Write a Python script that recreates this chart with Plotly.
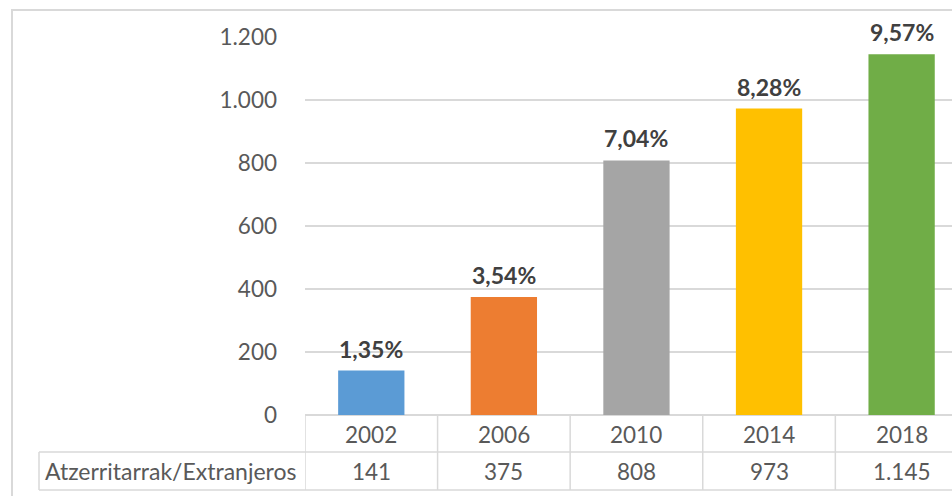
import plotly.graph_objects as go

# data
years = ["2002", "2006", "2010", "2014", "2018"]
extranjeros = [141, 375, 808, 973, 1145]
porcentajes = ["1,35%", "3,54%", "7,04%", "8,28%", "9,57%"]
row_label = "Atzerritarrak/Extranjeros"
y_ticks = [0, 200, 400, 600, 800, 1000, 1200]

colors = ["#5B9BD5", "#ED7D31", "#A5A5A5", "#FFC000", "#70AD47"]
grid_color = "#D9D9D9"
text_color = "#595959"
font_family = "Lato"


def fmt_es(v):
    # spanish thousands separator
    return f"{v:,}".replace(",", ".")


fig = go.Figure()
fig.add_trace(
    go.Bar(
        x=years,
        y=extranjeros,
        marker=dict(color=colors, line=dict(width=0)),
        width=0.5,
        hoverinfo="skip",
    )
)

# percentage labels above bars (category index used as x, "2002" would be read as a number)
for i, (val, pct) in enumerate(zip(extranjeros, porcentajes)):
    fig.add_annotation(
        x=i, y=val, xref="x", yref="y",
        text=f"<b>{pct}</b>", showarrow=False,
        yanchor="bottom", yshift=6,
        font=dict(family=font_family, size=23, color="#404040"),
    )

# data table under the axis
for i, (yr, val) in enumerate(zip(years, extranjeros)):
    fig.add_annotation(
        x=i, y=0, xref="x", yref="paper", text=yr, showarrow=False,
        yanchor="middle", yshift=-19,
        font=dict(family=font_family, size=22.5, color=text_color),
    )
    fig.add_annotation(
        x=i, y=0, xref="x", yref="paper", text=fmt_es(val), showarrow=False,
        yanchor="middle", yshift=-56,
        font=dict(family=font_family, size=22.5, color=text_color),
    )
fig.add_annotation(
    x=0, y=0, xref="paper", yref="paper", text=row_label, showarrow=False,
    xanchor="center", xshift=-135, yanchor="middle", yshift=-56,
    font=dict(family=font_family, size=23, color=text_color),
)

line_style = dict(color=grid_color, width=1.5)
shapes = []
# vertical cell borders
for i in range(len(years) + 1):
    shapes.append(dict(
        type="line", xref="x", yref="paper", x0=i - 0.5, x1=i - 0.5,
        ysizemode="pixel", yanchor=0, y0=0, y1=-75, line=line_style,
    ))
# header cell left border
shapes.append(dict(
    type="line", xref="paper", yref="paper",
    xsizemode="pixel", xanchor=0, x0=-266, x1=-266,
    ysizemode="pixel", yanchor=0, y0=-37, y1=-75, line=line_style,
))
# horizontal row borders
for dy in (-37, -75):
    shapes.append(dict(
        type="line", xref="paper", yref="paper",
        xsizemode="pixel", xanchor=0, x0=-266, x1=700,
        ysizemode="pixel", yanchor=0, y0=dy, y1=dy, line=line_style,
    ))
# chart outer border
shapes.append(dict(
    type="rect", xref="paper", yref="paper",
    xsizemode="pixel", xanchor=0, x0=-293, x1=700,
    ysizemode="pixel", yanchor=1, y0=27, y1=-600,
    line=dict(color=grid_color, width=2), fillcolor="rgba(0,0,0,0)",
))

fig.update_layout(
    width=952,
    height=496,
    margin=dict(l=305, r=0, t=37, b=81),
    paper_bgcolor="white",
    plot_bgcolor="white",
    separators=",.",
    showlegend=False,
    shapes=shapes,
    font=dict(family=font_family, size=22, color=text_color),
    xaxis=dict(
        type="category",
        range=[-0.5, 4.38],
        showticklabels=False,
        showgrid=False,
        showline=False,
        ticks="",
        fixedrange=True,
    ),
    yaxis=dict(
        range=[0, 1200],
        tickvals=y_ticks,
        ticktext=[fmt_es(v) for v in y_ticks],
        showgrid=True,
        gridcolor=grid_color,
        gridwidth=1.5,
        zeroline=True,
        zerolinecolor=grid_color,
        zerolinewidth=1.5,
        showline=False,
        ticks="",
        ticklabelstandoff=27,
        tickfont=dict(family=font_family, size=22.5, color=text_color),
        fixedrange=True,
    ),
)

# drop the default page margin so the figure fills the window without scrollbars
fig.write_html(
    "out.html",
    config={"displayModeBar": False},
    post_script="document.body.style.margin='0';document.body.style.overflow='hidden';",
)
